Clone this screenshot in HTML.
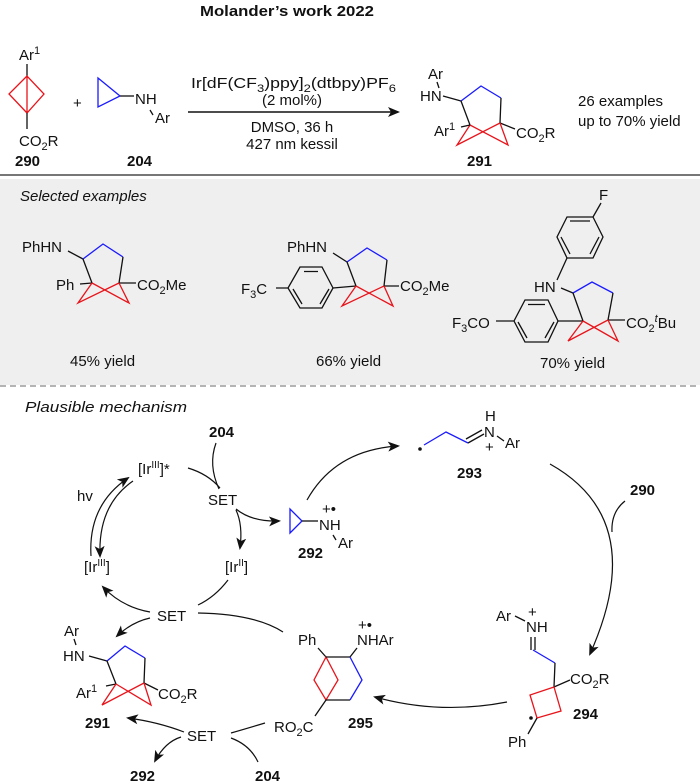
<!DOCTYPE html>
<html><head><meta charset="utf-8"><style>
html,body{margin:0;padding:0;background:#fff}
svg{display:block}
text{font-family:"Liberation Sans",Arial,sans-serif;font-size:15px;fill:#111}
.b{font-weight:bold}
.i{font-style:italic}
.k{stroke:#111;stroke-width:1.3;fill:none}
.r{stroke:#e8141b;stroke-width:1.3;fill:none}
.u{stroke:#1a1aff;stroke-width:1.3;fill:none}
.a{stroke:#111;stroke-width:1.2;fill:none}
</style></head><body>
<svg width="700" height="784" viewBox="0 0 700 784" xmlns="http://www.w3.org/2000/svg">
<defs>
<marker id="ah" viewBox="0 0 12 10" refX="10" refY="5" markerWidth="12" markerHeight="10" markerUnits="userSpaceOnUse" orient="auto">
<path d="M0,0 L12,5 L0,10 L3,5 Z" fill="#111"/></marker>
</defs>
<rect x="0" y="179" width="700" height="206" fill="#efefef"/>
<line x1="0" y1="175" x2="700" y2="175" stroke="#777" stroke-width="2"/>
<line x1="0" y1="386" x2="700" y2="386" stroke="#888" stroke-width="1.3" stroke-dasharray="6,4"/>

<text x="200" y="16" class="b" font-size="16" textLength="174" lengthAdjust="spacingAndGlyphs">Molander’s work 2022</text>

<!-- 290 -->
<text x="19" y="60">Ar<tspan font-size="11" dy="-6">1</tspan></text>
<line class="k" x1="27" y1="64" x2="27" y2="76"/>
<path class="r" d="M27,76 L9,94 L27,113 L44,94 Z M27,76 L27,113"/>
<line class="k" x1="27" y1="113" x2="27" y2="129"/>
<text x="19" y="146">CO<tspan font-size="11" dy="4">2</tspan><tspan dy="-4">R</tspan></text>
<text x="15" y="166" class="b">290</text>
<text x="73" y="108">+</text>
<!-- 204 -->
<path class="u" d="M98,78 L98,107 L120,96 Z"/>
<line class="k" x1="120" y1="96" x2="134" y2="96"/>
<text x="135" y="104">NH</text>
<line class="k" x1="150" y1="110" x2="153" y2="115"/>
<text x="155" y="123">Ar</text>
<text x="127" y="166" class="b">204</text>
<!-- arrow -->
<line x1="188" y1="112" x2="398" y2="112" stroke="#111" stroke-width="1.5" marker-end="url(#ah)"/>
<text x="191" y="88" textLength="205" lengthAdjust="spacingAndGlyphs">Ir[dF(CF<tspan font-size="11" dy="4">3</tspan><tspan dy="-4">)ppy]</tspan><tspan font-size="11" dy="4">2</tspan><tspan dy="-4">(dtbpy)PF</tspan><tspan font-size="11" dy="4">6</tspan></text>
<text x="292" y="105" text-anchor="middle" font-size="16">(2 mol%)</text>
<text x="292" y="132" text-anchor="middle" font-size="16">DMSO, 36 h</text>
<text x="292" y="149" text-anchor="middle" font-size="16">427 nm kessil</text>
<!-- 291 top -->
<text x="428" y="79">Ar</text>
<line class="k" x1="437" y1="82" x2="439" y2="88"/>
<text x="420" y="101">HN</text>
<line class="k" x1="443" y1="96" x2="461" y2="101"/>
<path class="u" d="M461,101 L481,86 L501,98"/>
<path class="k" d="M501,98 L500,123 M461,101 L470,125 M500,123 L515,129"/>
<path class="r" d="M470,125 L457,145 L500,123 M470,125 L508,145 L500,123"/>
<text x="434" y="136">Ar<tspan font-size="11" dy="-6">1</tspan></text>
<line class="k" x1="461" y1="127" x2="470" y2="125"/>
<text x="516" y="138">CO<tspan font-size="11" dy="4">2</tspan><tspan dy="-4">R</tspan></text>
<text x="467" y="166" class="b">291</text>
<text x="578" y="106" font-size="16">26 examples</text>
<text x="578" y="126" font-size="16">up to 70% yield</text>

<text x="20" y="201" class="i" font-size="16">Selected examples</text>
<!-- ex1 -->
<text x="22" y="252">PhHN</text>
<line class="k" x1="68" y1="251" x2="83" y2="259"/>
<path class="u" d="M83,259 L103,244 L123,257"/>
<path class="k" d="M123,257 L119,283 M83,259 L92,283 M119,283 L136,283 M80,284 L92,283"/>
<path class="r" d="M92,283 L78,303 L119,283 M92,283 L129,303 L119,283"/>
<text x="56" y="290">Ph</text>
<text x="137" y="290">CO<tspan font-size="11" dy="4">2</tspan><tspan dy="-4">Me</tspan></text>
<text x="70" y="366" font-size="16">45% yield</text>
<!-- ex2 -->
<text x="287" y="252">PhHN</text>
<line class="k" x1="333" y1="253" x2="347" y2="262"/>
<path class="u" d="M347,262 L367,248 L387,260"/>
<path class="k" d="M387,260 L384,286 M347,262 L356,286 M384,286 L399,286 M333,288 L356,286"/>
<path class="r" d="M356,286 L342,306 L384,286 M356,286 L393,306 L384,286"/>
<path class="k" d="M333,288 L322,267 L300,267 L288,288 L300,308 L322,308 Z M304,271.5 L318,271.5 M293,289 L302,304 M320,304 L329,289 M276,288 L288,288"/>
<text x="241" y="294">F<tspan font-size="11" dy="4">3</tspan><tspan dy="-4">C</tspan></text>
<text x="400" y="291">CO<tspan font-size="11" dy="4">2</tspan><tspan dy="-4">Me</tspan></text>
<text x="316" y="366" font-size="16">66% yield</text>
<!-- ex3 -->
<text x="599" y="200">F</text>
<path class="k" d="M593,217 L567,217 L557,237 L567,258 L593,258 L603,237 Z M570,221 L590,221 M561,237 L570,254 M599,237 L590,254 M593,217 L601,203 M567,258 L557,280"/>
<text x="534" y="292">HN</text>
<line class="k" x1="561" y1="288" x2="573" y2="293"/>
<path class="u" d="M573,293 L592,282 L613,293"/>
<path class="k" d="M613,293 L608,320 M573,293 L583,321 M608,320 L625,320 M558,321 L583,321"/>
<path class="r" d="M583,321 L568,341 L608,320 M583,321 L618,341 L608,320"/>
<path class="k" d="M558,321 L548,300 L525,300 L514,321 L525,342 L548,342 Z M528,304.5 L545,304.5 M518,322 L527,338 M545,338 L554,322 M496,321 L514,321"/>
<text x="452" y="328">F<tspan font-size="11" dy="4">3</tspan><tspan dy="-4">CO</tspan></text>
<text x="626" y="328">CO<tspan font-size="11" dy="4">2</tspan><tspan font-size="11" dy="-10" class="i">t</tspan><tspan dy="6">Bu</tspan></text>
<text x="540" y="368" font-size="16">70% yield</text>

<!-- mechanism -->
<text x="25" y="412" class="i" font-size="16" textLength="162" lengthAdjust="spacingAndGlyphs">Plausible mechanism</text>
<text x="209" y="437" class="b">204</text>
<text x="138" y="474">[Ir<tspan font-size="10" dy="-6">III</tspan><tspan dy="6">]*</tspan></text>
<text x="208" y="505">SET</text>
<text x="77" y="501">hv</text>
<path class="a" d="M216,443 Q208,465 219,489"/>
<path class="a" d="M188,468 Q208,474 220,488"/>
<path class="a" d="M91,556 Q88,505 128,478" marker-end="url(#ah)"/>
<path class="a" d="M133,481 Q98,505 100,556" marker-end="url(#ah)"/>
<path class="a" d="M236,509 Q252,522 279,521" marker-end="url(#ah)"/>
<path class="a" d="M236,510 Q243,525 240,548" marker-end="url(#ah)"/>
<!-- 292 -->
<path class="u" d="M290,509 L290,533 L302,521 Z"/>
<line class="k" x1="302" y1="521" x2="318" y2="521"/>
<text x="319" y="530">NH</text>
<text x="322" y="514" font-size="12">+•</text>
<line class="k" x1="333" y1="535" x2="336" y2="540"/>
<text x="338" y="548">Ar</text>
<text x="298" y="558" class="b">292</text>
<path class="a" d="M307,500 Q335,450 398,446" marker-end="url(#ah)"/>
<text x="84" y="572">[Ir<tspan font-size="10" dy="-6">III</tspan><tspan dy="6">]</tspan></text>
<text x="225" y="572">[Ir<tspan font-size="10" dy="-6">II</tspan><tspan dy="6">]</tspan></text>
<text x="157" y="621">SET</text>
<path class="a" d="M228,580 Q215,597 198,605"/>
<path class="a" d="M150,612 Q122,607 103,587" marker-end="url(#ah)"/>
<path class="a" d="M150,618 Q132,622 117,636" marker-end="url(#ah)"/>
<path class="a" d="M198,613 Q255,614 283,632"/>
<!-- 291 lower -->
<text x="64" y="636">Ar</text>
<line class="k" x1="74" y1="639" x2="76" y2="645"/>
<text x="63" y="661">HN</text>
<line class="k" x1="89" y1="656" x2="107" y2="661"/>
<path class="u" d="M107,661 L125,646 L145,658"/>
<path class="k" d="M145,658 L144,683 M107,661 L116,684 M144,683 L158,690 M106,686 L116,684"/>
<path class="r" d="M116,684 L102,705 L144,683 M116,684 L151,705 L144,683"/>
<text x="76" y="698">Ar<tspan font-size="11" dy="-6">1</tspan></text>
<text x="158" y="699">CO<tspan font-size="11" dy="4">2</tspan><tspan dy="-4">R</tspan></text>
<text x="85" y="728" class="b">291</text>
<text x="187" y="741">SET</text>
<path class="a" d="M184,732 Q158,722 128,718" marker-end="url(#ah)"/>
<path class="a" d="M181,737 Q165,742 155,761" marker-end="url(#ah)"/>
<path class="a" d="M258,762 Q250,745 231,738"/>
<path class="a" d="M265,723 Q245,729 231,733"/>
<text x="130" y="781" class="b">292</text>
<text x="255" y="781" class="b">204</text>
<!-- 295 -->
<text x="298" y="645">Ph</text>
<text x="358" y="630" font-size="12">+•</text>
<text x="357" y="645">NHAr</text>
<line class="k" x1="318" y1="648" x2="326" y2="657"/>
<path class="r" d="M326,657 L314,680 L326,700 L338,680 Z"/>
<path class="k" d="M326,657 L350,657 L357,648 M350,700 L326,700 L315,716"/>
<path class="u" d="M350,657 L362,680 L350,700"/>
<text x="274" y="732">RO<tspan font-size="11" dy="4">2</tspan><tspan dy="-4">C</tspan></text>
<text x="348" y="728" class="b">295</text>
<path class="a" d="M507,702 Q440,715 375,697" marker-end="url(#ah)"/>
<!-- 293 -->
<circle cx="420" cy="449" r="1.8" fill="#111"/>
<path class="u" d="M424,445 L446,432 L468,443"/>
<path class="k" d="M468,443 L484,434 M466,439 L482,430"/>
<text x="484" y="437">N</text>
<text x="485" y="421">H</text>
<text x="485" y="452" font-size="13">+</text>
<line class="k" x1="497" y1="436" x2="504" y2="441"/>
<text x="505" y="448">Ar</text>
<text x="457" y="478" class="b">293</text>
<path class="a" d="M550,464 Q650,520 590,654" marker-end="url(#ah)"/>
<text x="630" y="495" class="b">290</text>
<path class="a" d="M625,501 Q611,512 612,532"/>
<!-- 294 -->
<text x="496" y="621">Ar</text>
<line class="k" x1="515" y1="616" x2="525" y2="621"/>
<text x="528" y="617" font-size="13">+</text>
<text x="526" y="632">NH</text>
<path class="k" d="M531,637 L531,650 M535,637 L535,650"/>
<path class="u" d="M533,650 L555,663"/>
<path class="k" d="M555,663 L554,687 L570,680"/>
<path class="r" d="M554,687 L530,695 L537,718 L561,711 Z"/>
<circle cx="531" cy="718" r="1.8" fill="#111"/>
<line class="k" x1="537" y1="718" x2="528" y2="734"/>
<text x="508" y="747">Ph</text>
<text x="570" y="684">CO<tspan font-size="11" dy="4">2</tspan><tspan dy="-4">R</tspan></text>
<text x="573" y="719" class="b">294</text>
</svg>
</body></html>
